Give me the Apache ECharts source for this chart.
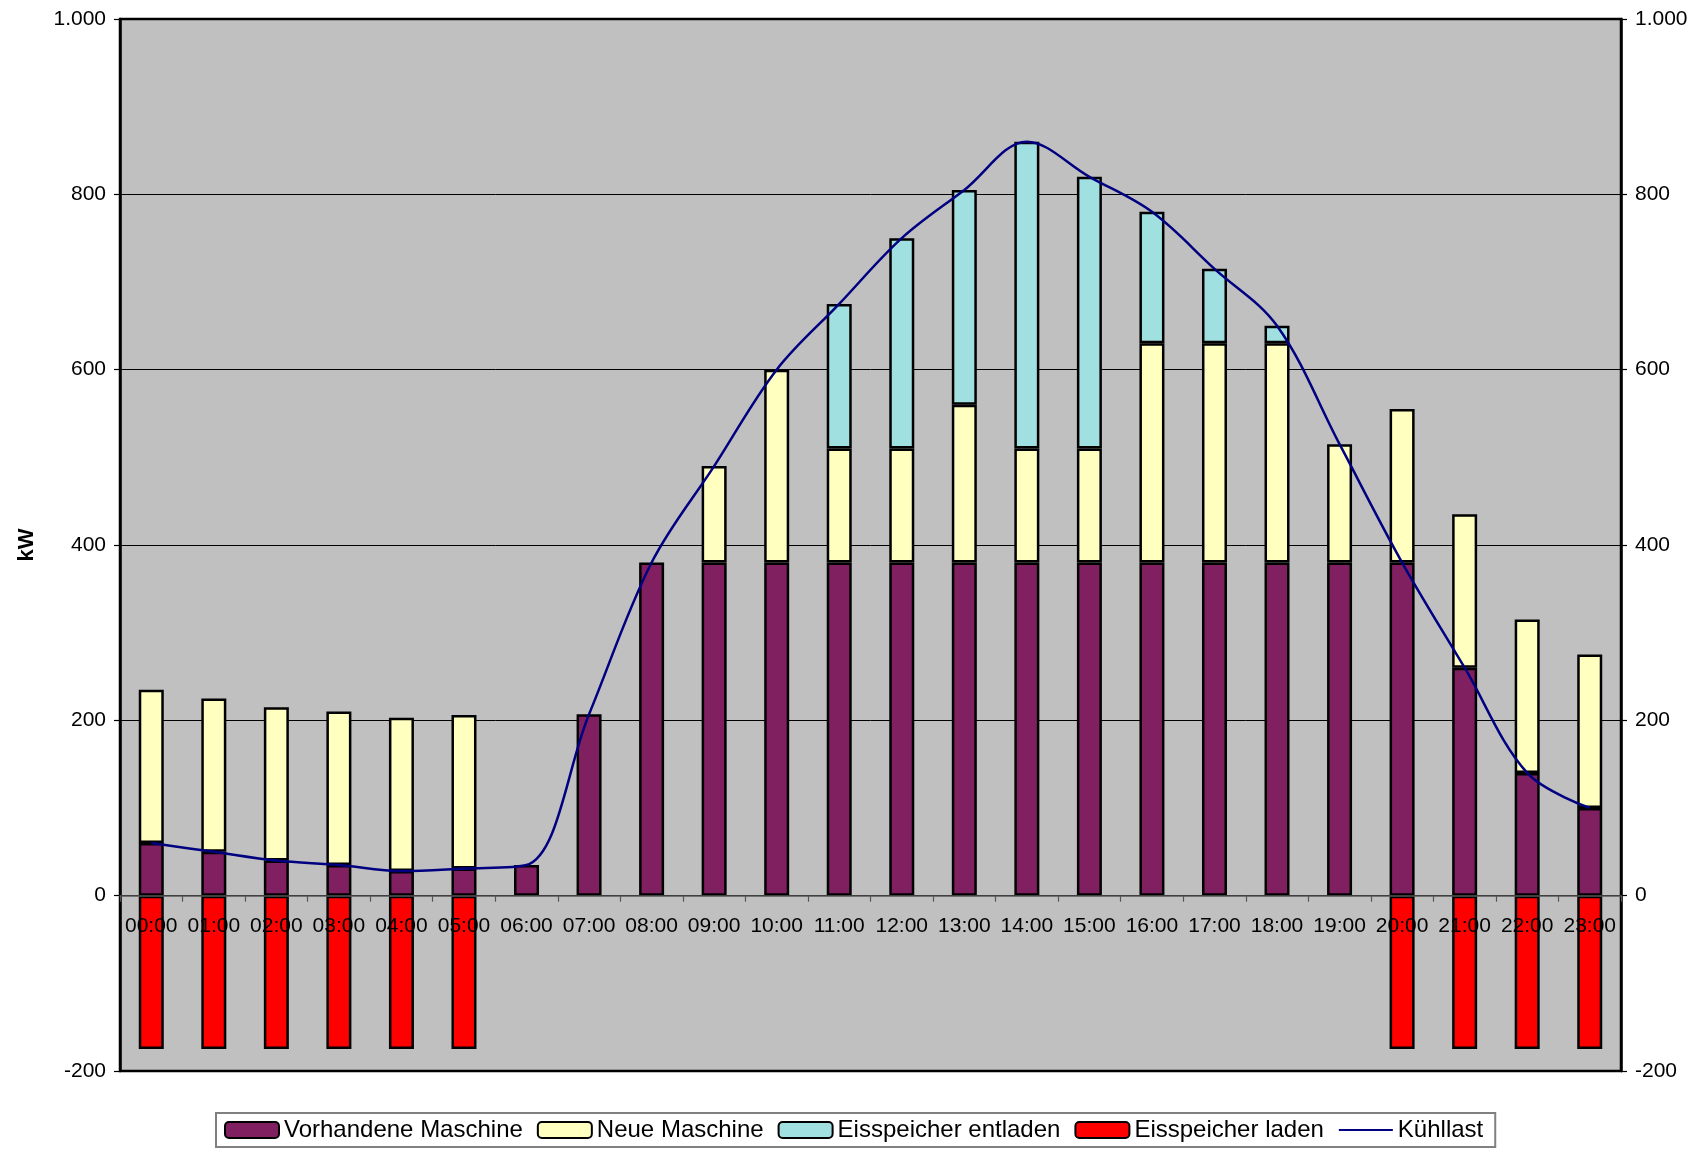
<!DOCTYPE html>
<html>
<head>
<meta charset="utf-8">
<script src="https://cdn.jsdelivr.net/npm/echarts@6/dist/echarts.min.js"></script>
<style>
html,body{margin:0;padding:0;background:#fff;}
#chart{width:1701px;height:1150px;}
</style>
</head>
<body>
<div id="chart"></div>
<script>
// ---- data ----
const hours = ['00:00','01:00','02:00','03:00','04:00','05:00','06:00','07:00','08:00','09:00','10:00','11:00',
               '12:00','13:00','14:00','15:00','16:00','17:00','18:00','19:00','20:00','21:00','22:00','23:00'];
const vorhandeneMaschine = [60,50,40,35,28,31,35,207,380,380,380,380,380,380,380,380,380,380,380,380,380,260,140,100];
const neueMaschine       = [175,175,175,175,175,175,0,0,0,110,220,130,130,180,130,130,250,250,250,135,175,175,175,175];
const eisspeicherEntladen= [0,0,0,0,0,0,0,0,0,0,0,165,240,245,350,310,150,85,20,0,0,0,0,0];
const eisspeicherLaden   = [-175,-175,-175,-175,-175,-175,0,0,0,0,0,0,0,0,0,0,0,0,0,0,-175,-175,-175,-175];
const kuehllast          = [60,50,40,35,28,31,35,207,380,490,600,675,750,805,860,820,780,715,650,515,380,260,140,100];
const yTicks = [-200,0,200,400,600,800,1000];

// ---- chart ----
const nz = a => a.map(v => v === 0 ? null : v);
const fmt = v => {
  const s = String(Math.abs(v));
  const t = s.replace(/\B(?=(\d{3})+(?!\d))/g, '.');
  return (v < 0 ? '-' : '') + t;
};
const FONT = 'Liberation Sans, Arial, sans-serif';
const barCommon = {
  type: 'bar', stack: 'total', barWidth: 25,
  itemStyle: { borderColor: '#000', borderWidth: 2.5 },
  emphasis: { disabled: true }
};
const yBase = {
  type: 'value', min: yTicks[0], max: yTicks[yTicks.length-1], interval: 200,
  axisLine: { show: true, lineStyle: { color: '#000', width: 2.5 } },
  axisTick: { show: true, length: 6, lineStyle: { color: '#000', width: 1.2 } },
  axisLabel: { formatter: fmt, fontFamily: FONT, fontSize: 21, color: '#000', margin: 14 }
};
const chart = echarts.init(document.getElementById('chart'), null, { renderer: 'canvas' });
chart.setOption({
  animation: false,
  backgroundColor: '#fff',
  grid: { left: 120, right: 80, top: 19, bottom: 79, show: true,
          backgroundColor: '#c0c0c0', borderColor: '#000', borderWidth: 2.5 },
  legend: {
    left: 216, top: 1113, padding: [5, 12, 5, 8],
    itemWidth: 54, itemHeight: 16, itemGap: 14,
    borderColor: '#808080', borderWidth: 2, backgroundColor: '#fff',
    textStyle: { fontFamily: FONT, fontSize: 24, color: '#000' },
    data: ['Vorhandene Maschine','Neue Maschine','Eisspeicher entladen','Eisspeicher laden',
           { name: 'Kühllast', itemStyle: { opacity: 0 } }]
  },
  xAxis: {
    type: 'category', data: hours, z: 5, offset: 0,
    axisLine: { onZero: false, lineStyle: { color: '#555', width: 1.5 } },
    axisTick: { show: true, length: 6, lineStyle: { color: '#555', width: 1.2 } },
    axisLabel: { interval: 0, fontFamily: FONT, fontSize: 21, color: '#000', margin: 20 },
    splitLine: { show: false }
  },
  yAxis: [
    Object.assign({}, yBase, {
      position: 'left',
      name: 'kW', nameLocation: 'middle', nameGap: 82, nameRotate: 90,
      nameTextStyle: { fontFamily: FONT, fontSize: 22, fontWeight: 'bold', color: '#000' },
      splitLine: { show: true, lineStyle: { color: '#000', width: 1 } }
    }),
    Object.assign({}, yBase, { position: 'right', splitLine: { show: false } })
  ],
  series: [
    Object.assign({}, barCommon, { name: 'Vorhandene Maschine', data: nz(vorhandeneMaschine),
      itemStyle: Object.assign({}, barCommon.itemStyle, { color: '#802060' }) }),
    Object.assign({}, barCommon, { name: 'Neue Maschine', data: nz(neueMaschine),
      itemStyle: Object.assign({}, barCommon.itemStyle, { color: '#ffffc0' }) }),
    Object.assign({}, barCommon, { name: 'Eisspeicher entladen', data: nz(eisspeicherEntladen),
      itemStyle: Object.assign({}, barCommon.itemStyle, { color: '#a0e0e0' }) }),
    Object.assign({}, barCommon, { name: 'Eisspeicher laden', data: nz(eisspeicherLaden),
      itemStyle: Object.assign({}, barCommon.itemStyle, { color: '#ff0000' }) }),
    { name: 'Kühllast', type: 'line', data: kuehllast, smooth: 0.35, symbol: 'none', z: 10,
      lineStyle: { color: '#000080', width: 2.5 }, itemStyle: { color: '#000080' },
      emphasis: { disabled: true } }
  ]
});
// place the category axis on the zero line, using the library's own value scale
const yZero = chart.convertToPixel({ yAxisIndex: 0 }, 0);
const yMin = chart.convertToPixel({ yAxisIndex: 0 }, yTicks[0]);
chart.setOption({ xAxis: { offset: yZero - yMin } });
</script>
</body>
</html>
